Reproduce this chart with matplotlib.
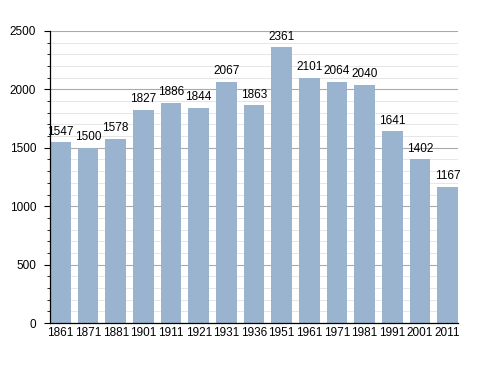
import matplotlib
matplotlib.use('Agg')
import matplotlib.pyplot as plt
from matplotlib.ticker import MultipleLocator

years = ['1861', '1871', '1881', '1901', '1911', '1921', '1931', '1936',
         '1951', '1961', '1971', '1981', '1991', '2001', '2011']
population = [1547, 1500, 1578, 1827, 1886, 1844, 2067, 1863,
              2361, 2101, 2064, 2040, 1641, 1402, 1167]

plt.rcParams['font.family'] = ['Liberation Sans', 'DejaVu Sans']

fig = plt.figure(figsize=(4.88, 3.73), dpi=100)
ax = fig.add_axes([0.1025, 0.134, 0.836, 0.783])

x = range(len(years))
ax.bar(x, population, width=0.75, color='#9ab3cf', zorder=3)

for xi, v in zip(x, population):
    ax.text(xi, v + 40, str(v), ha='center', va='bottom', fontsize=8.5, zorder=4)

ax.set_xlim(-0.375, len(years) - 0.625)
ax.set_ylim(0, 2500)
ax.set_xticks(list(x))
ax.set_xticklabels(years, fontsize=8.5)
ax.yaxis.set_major_locator(MultipleLocator(500))
ax.yaxis.set_minor_locator(MultipleLocator(100))
ax.tick_params(axis='y', labelsize=8.5, length=4, width=0.8, pad=6)
ax.tick_params(axis='y', which='minor', length=2.5, width=0.6)
ax.tick_params(axis='x', length=0, pad=3)

ax.grid(axis='y', which='major', color='#aaaaaa', linewidth=0.8, zorder=0)
ax.grid(axis='y', which='minor', color='#e2e2e2', linewidth=0.6, zorder=0)

for side in ('top', 'right'):
    ax.spines[side].set_visible(False)
ax.spines['left'].set_linewidth(0.9)
ax.spines['bottom'].set_linewidth(0.9)
ax.spines['left'].set_zorder(5)
ax.spines['bottom'].set_zorder(5)

fig.savefig('out.png', dpi=100)
